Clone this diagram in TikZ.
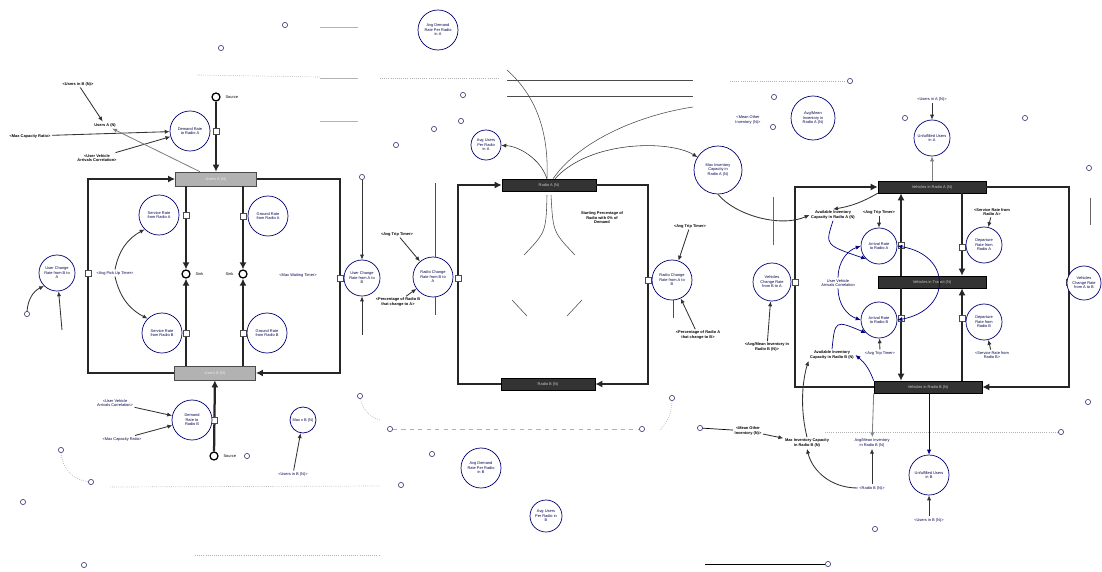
\documentclass[tikz,border=0pt]{standalone}
\usepackage{fontspec}
\setmainfont{Liberation Sans}
\usetikzlibrary{arrows.meta}

\newcommand{\tinyfont}{\fontsize{2.8}{3.2}\selectfont}

\tikzset{
  aux/.style={circle, draw=blue!45!black, line width=0.5pt, minimum size=#1, inner sep=0pt,
    align=center, font=\tinyfont, text=blue!30!black, fill=white},
  aux/.default=1cm,
  stockL/.style={rectangle, draw=black!70, fill=gray!60, minimum width=2.03cm, minimum height=0.35cm,
    inner sep=0pt, font=\tinyfont, text=white!85!gray},
  stockD/.style={rectangle, draw=black, fill=black!80, minimum width=#1, minimum height=0.3cm,
    inner sep=0pt, font=\tinyfont, text=white!60!gray},
  stockD/.default=2.7cm,
  valve/.style={rectangle, draw=black!70, fill=white, minimum size=0.14cm, inner sep=0pt},
  cloud/.style={circle, draw=black, line width=0.9pt, minimum size=0.2cm, inner sep=0pt, fill=white},
  smallcloud/.style={circle, draw=blue!30!black!70, line width=0.5pt, minimum size=0.13cm, inner sep=0pt},
  lab/.style={font=\tinyfont, align=center, text=blue!30!black, inner sep=1pt},
  labb/.style={font=\tinyfont\bfseries, align=center, inner sep=1pt},
  flow/.style={line width=1.6pt, draw=black!85, -{Latex[length=5pt,width=5pt]}},
  link/.style={line width=0.6pt, draw=black!80, -{Latex[length=3.5pt,width=3pt]}},
  bluelink/.style={line width=0.5pt, draw=blue!50!black, -{Latex[length=3.5pt,width=3pt]}},
  faint/.style={line width=0.4pt, draw=gray!60},
  faintdot/.style={line width=0.5pt, draw=gray!60, densely dotted},
}

\begin{document}
\begin{tikzpicture}[x=0.025cm, y=-0.025cm]
\useasboundingbox (0,0) rectangle (1102,571);

% ---------------- left panel: users
\node[stockL] (uA) at (216,179) {Users A (N)};
\node[stockL] (uB) at (215,373) {Users B (N)};

\coordinate (lTL) at (88,179);
\coordinate (lBL) at (88,373);
\coordinate (lTR) at (340,179);
\coordinate (lBR) at (340,373);
\draw[flow] (uB.west) -- (lBL) -- (lTL) -- (uA.west);
\draw[flow] (uA.east) -- (lTR) -- (lBR) -- (uB.east);
\node[valve] (vBA) at (88,273) {};
\node[valve] (vAB) at (340,278) {};
\node[aux=0.9cm] (cBA) at (57,273) {User Change\\Rate from B to\\A};
\node[aux=0.9cm] (cAB) at (362,278) {User Change\\Rate from A to\\B};

% sinks
\node[cloud, label={[font=\tinyfont]right:Sink}] (sinkL) at (186,274) {};
\node[cloud, label={[font=\tinyfont]left:Sink}] (sinkR) at (243,274) {};
\coordinate (xL) at (186,0);
\coordinate (xR) at (243,0);
\draw[flow] (uA.south -| xL) -- (sinkL);
\draw[flow] (uB.north -| xL) -- (sinkL);
\draw[flow] (uA.south -| xR) -- (sinkR);
\draw[flow] (uB.north -| xR) -- (sinkR);
\node[valve] at (186,215) {};
\node[valve] at (243,216) {};
\node[valve] at (186,333) {};
\node[valve] at (243,333) {};
\node[aux] (sRA) at (159,215) {Service Rate\\from Radio A};
\node[aux] (gRA) at (268,216) {Ground Rate\\from Radio A};
\node[aux] (sRB) at (162,333) {Service Rate\\from Radio B};
\node[aux] (gRB) at (267,333) {Ground Rate\\from Radio B};

% sources
\node[cloud, label={[font=\tinyfont]right:Source}] (srcA) at (216,97) {};
\node[cloud, label={[font=\tinyfont]right:Source}] (srcB) at (214,456) {};
\draw[flow] (srcA) -- (uA);
\draw[flow] (srcB) -- (uB);
\node[valve] at (216,131) {};
\node[valve] at (214,420) {};
\node[aux] (dRA) at (190,131) {Demand Rate\\to Radio A};
\node[aux] (dRB) at (192,420) {Demand\\Rate to\\Radio B};

\node[labb] (uBin) at (78,84) {<Users in B (N)>};
\node[labb] (uAl) at (105,125) {Users A (N)};
\node[labb] (mcrA) at (30,136) {<Max Capacity Ratio>};
\node[labb] (uvaA) at (97,158) {<User Vehicle\\Arrivals Correlation>};
\draw[link] (uBin) -- (uAl);
\draw[link] (mcrA) -- (dRA);
\draw[link] (uvaA) -- (dRA);
\draw[link, draw=gray] ([xshift=-0.4cm]uA.north) -- (uAl);

\node[lab] (pkT) at (115,273) {<Avg Pick Up Timer>};
\node[lab] (mwT) at (298,275) {<Max Waiting Timer>};
\draw[link] (pkT.north) to[bend left=25] (sRA.south west);
\draw[link] (pkT.south) to[bend right=25] (sRB.north west);

\node[lab] (uvaB) at (115,403) {<User Vehicle\\Arrivals Correlation>};
\node[lab] (mcrB) at (122,439) {<Max Capacity Ratio>};
\draw[link] (uvaB) -- (dRB);
\draw[link] (mcrB) -- (dRB);
\node[aux=0.65cm] (mxB) at (303,420) {Max v B (N)};
\node[lab] (uBin2) at (293,474) {<Users in B (N)>};
\draw[link] (uBin2) -- (mxB);

% odd ends round the left panel
\node[smallcloud] (c1) at (27,314) {};
\draw[link] (c1) to[bend left=30] (cBA.south west);
\coordinate (c2) at (62,330);
\draw[link] (c2) -- (cBA);
\node[smallcloud] (c3) at (362,177) {};
\draw[link] (c3) -- (cAB);
\coordinate (c4) at (362,335);
\draw[link] (c4) -- (cAB);
\node[smallcloud] (c5) at (360,396) {};
\draw[faintdot] (c5) to[bend right=30] (380,420);
\node[smallcloud] (c6) at (61,450) {};
\node[smallcloud] (c7) at (91,482) {};
\draw[faintdot] (c6) to[bend right=40] (c7);
\node[smallcloud] at (285,25) {};
\node[smallcloud] at (221,48) {};
\node[smallcloud] at (23,502) {};
\node[smallcloud] at (84,565) {};
\node[smallcloud] at (247,456) {};
\draw[faint] (320,27) -- (358,27);
\draw[faint] (320,78) -- (358,78);
\draw[faint] (320,121) -- (358,121);
\draw[faintdot] (197,75) -- (320,77);
\draw[faintdot] (110,487) -- (380,486);
\draw[faintdot] (195,555) -- (380,555);

% ---------------- middle panel: radios
\node[stockD=2.35cm] (rA) at (549,185) {Radio A (N)};
\node[stockD=2.35cm] (rB) at (548,384) {Radio B (N)};
\coordinate (mTL) at (458,185);
\coordinate (mBL) at (458,384);
\coordinate (mTR) at (648,185);
\coordinate (mBR) at (648,384);
\draw[flow] (rB.west) -- (mBL) -- (mTL) -- (rA.west);
\draw[flow] (rA.east) -- (mTR) -- (mBR) -- (rB.east);
\node[valve] at (458,278) {};
\node[valve] at (648,280) {};
\node[aux] (rcBA) at (433,277) {Radio Change\\Rate from B to\\A};
\node[aux] (rcAB) at (672,280) {Radio Change\\Rate from A to\\B};

\node[aux] (adA) at (438,30) {Avg Demand\\Rate Per Radio\\in A};
\node[aux=0.75cm] (aupA) at (486,145) {Avg Users\\Per Radio\\in A};
\node[aux=1.2cm] (mxA) at (718,170) {Max Inventory\\Capacity in\\Radio A (N)};
\node[aux] (adB) at (481,468) {Avg Demand\\Rate Per Radio\\in B};
\node[aux=0.8cm] (aupB) at (546,516) {Avg Users\\Per Radio in\\B};

\draw[faint, draw=black!70] ([xshift=-0.05cm]rA.north) .. controls (549,130) and (535,95) .. (507,70);
\draw[faint, draw=black!70] ([xshift=0.1cm]rA.north) .. controls (580,140) and (640,115) .. (693,107);
\draw[link, line width=0.4pt] ([xshift=-0.05cm]rA.north) .. controls (540,158) and (518,146) .. (aupA);
\draw[link, line width=0.4pt] ([xshift=0.15cm]rA.north) .. controls (590,140) and (670,140) .. (mxA);
\draw[faint, draw=black!70] (507,80) -- (693,80);
\draw[faint, draw=black!70] (507,96) -- (693,96);
\draw[faintdot] (380,78) -- (500,78);
\draw[faintdot] (730,81) -- (846,81);
\draw[faint, draw=black!70] (547,195) .. controls (546,232) .. (524,255);
\draw[faint, draw=black!70] (551,195) .. controls (553,232) .. (575,255);
\draw[faint, draw=black!70] (512,300) -- (527,316);
\draw[faint, draw=black!70] (582,300) -- (567,316);

\node[labb] (spct) at (602,218) {Starting Percentage of\\Radio with 0\% of\\Demand};
\node[labb] (atL) at (397,234) {<Avg Trip Timer>};
\node[labb] (atR) at (690,226) {<Avg Trip Timer>};
\node[labb] (pBA) at (398,302) {<Percentage of Radio B\\that change to A>};
\node[labb] (pAB) at (698,335) {<Percentage of Radio A\\that change to B>};
\draw[link] (atL) -- (rcBA);
\draw[link] (atR) -- (rcAB);
\draw[link] (pBA) -- (rcBA);
\draw[link] (pAB) -- (rcAB);
\draw[faint, draw=black!70] (435,183) -- (435,257);
\draw[faint, draw=black!70] (435,297) -- (435,315);
\draw[faint, draw=black!70] (673,300) -- (673,318);

\node[smallcloud] (d1) at (390,429) {};
\node[smallcloud] (d2) at (642,429) {};
\draw[faint, dashed] (d1) -- (d2);
\node[smallcloud] at (463,95) {};
\node[smallcloud] at (461,121) {};
\node[smallcloud] at (434,129) {};
\node[smallcloud] at (396,145) {};
\node[smallcloud] (d3) at (672,398) {};
\draw[faintdot] (d3) to[bend left=20] (660,430);
\node[smallcloud] at (432,454) {};
\node[smallcloud] at (401,485) {};

% ---------------- right panel: vehicles
\node[stockD] (vA) at (932,187) {Vehicles in Radio A (N)};
\node[stockD] (vT) at (932,282) {Vehicles in Transit (N)};
\node[stockD] (vB) at (928,387) {Vehicles in Radio B (N)};
\coordinate (rTL) at (795,187);
\coordinate (rBL) at (795,387);
\coordinate (rTR) at (1069,187);
\coordinate (rBR) at (1069,387);
\draw[flow] (vB.west) -- (rBL) -- (rTL) -- (vA.west);
\draw[flow] (vA.east) -- (rTR) -- (rBR) -- (vB.east);
\node[valve] at (795,282) {};
\node[valve] at (1069,282) {};
\node[aux=0.95cm] (vcBA) at (772,282) {Vehicles\\Change Rate\\from B to A};
\node[aux=0.85cm] (vcAB) at (1084,283) {Vehicles\\Change Rate\\from A to B};

\coordinate (xa) at (901,0);
\coordinate (xd) at (962,0);
\draw[flow] (vT.north -| xa) -- (vA.south -| xa);
\draw[flow] (vA.south -| xd) -- (vT.north -| xd);
\draw[flow] (vT.south -| xa) -- (vB.north -| xa);
\draw[flow] (vB.north -| xd) -- (vT.south -| xd);
\node[valve] at (901,245) {};
\node[valve] at (962,247) {};
\node[valve] at (901,318) {};
\node[valve] at (962,318) {};
\node[aux=0.9cm] (arA) at (879,246) {Arrival Rate\\to Radio A};
\node[aux=0.9cm] (dpA) at (984,245) {Departure\\Rate from\\Radio A};
\node[aux=0.9cm] (arB) at (879,320) {Arrival Rate\\to Radio B};
\node[aux=0.9cm] (dpB) at (984,322) {Departure\\Rate from\\Radio B};

\node[labb] (aicA) at (833,215) {Available Inventory\\Capacity in Radio A (N)};
\node[labb] (atA) at (879,212) {<Avg Trip Timer>};
\node[labb] (srA) at (992,212) {<Service Rate from\\Radio A>};
\node[lab] (uvac) at (838,283) {User Vehicle\\Arrivals Correlation};
\node[lab] (atB) at (880,353) {<Avg Trip Timer>};
\node[lab] (srB) at (992,355) {<Service Rate from\\Radio B>};
\node[labb] (aicB) at (832,355) {Available Inventory\\Capacity in Radio B (N)};
\node[labb] (amiB) at (767,347) {<Avg/Mean Inventory in\\Radio B (N)>};
\draw[link] (atA) -- (arA);
\draw[link] (srA) -- (dpA);
\draw[link] (atB) -- (arB);
\draw[link] (srB) -- (dpB);
\draw[link] (amiB) -- (vcBA);
\draw[bluelink] (uvac.north) to[bend left=35] (arA.west);
\draw[bluelink] (uvac.south) to[bend right=35] (arB.west);
\draw[bluelink, {Latex[length=3.5pt,width=3pt]}-{Latex[length=3.5pt,width=3pt]}] (arA.east) .. controls (952,255) and (952,310) .. (arB.east);
\draw[bluelink] (aicA.south) .. controls (825,245) .. (arA.south west);
\draw[bluelink] (aicB.north) .. controls (835,320) .. (arB.south west);
\draw[link] (vA.south west) to[bend left=10] (aicA.north);
\draw[bluelink] (vB.north west) to[bend right=15] (aicB.east);
\draw[link] (mxA.south) .. controls (735,215) and (780,228) .. (aicA.west);

\node[labb] (moi) at (748,431) {<Mean Other\\Inventory (N)>};
\node[labb] (mxiB) at (807,443) {Max Inventory Capacity\\in Radio B (N)};
\node[lab] (amB) at (872,443) {Avg/Mean Inventory\\in Radio B (N)};
\node[lab] (rBl) at (872,488) {<Radio B (N)>};
\node[aux] (ufB) at (929,475) {Unfulfilled Users\\in B};
\node[lab] (uiB) at (929,520) {<Users in B (N)>};
\node[smallcloud] (e1) at (700,428) {};
\draw[line width=0.5pt] (e1) -- (moi);
\draw[link] (moi) -- (mxiB);
\draw[link, draw=gray] (vB.south west) -- (amB);
\draw[link] (rBl) -- (amB);
\draw[link] (rBl.west) .. controls (830,488) and (812,470) .. (mxiB.south);
\draw[link] (mxiB.north) .. controls (798,400) and (805,372) .. (aicB.south west);
\draw[bluelink] (vB.south -| ufB) -- (ufB);
\draw[link] (uiB) -- (ufB);
\node[smallcloud] (e2) at (1061,432) {};
\draw[faintdot] (825,432) -- (e2);
\node[smallcloud] (e3) at (828,564) {};
\draw[line width=0.5pt] (705,564) -- (e3);

\node[aux=1.1cm] (amiA) at (813,118) {Avg/Mean\\Inventory in\\Radio A (N)};
\node[lab] (moiA) at (748,120) {<Mean Other\\Inventory (N)>};
\node[lab] (uiA) at (932,99) {<Users in A (N)>};
\node[aux=0.9cm] (ufA) at (932,138) {Unfulfilled Users\\in A};
\draw[link] (uiA) -- (ufA);
\draw[link, draw=gray] (vA) -- (ufA);
\node[smallcloud] at (850,81) {};
\node[smallcloud] at (774,97) {};
\node[smallcloud] at (773,127) {};
\node[smallcloud] at (905,118) {};
\node[smallcloud] at (1025,118) {};
\node[smallcloud] at (1089,168) {};
\node[smallcloud] at (1088,402) {};
\node[smallcloud] at (875,529) {};
\draw[faint, draw=black!60] (773,197) -- (773,245);
\draw[faint, draw=black!60] (1090,198) -- (1090,225);
\end{tikzpicture}
\end{document}
